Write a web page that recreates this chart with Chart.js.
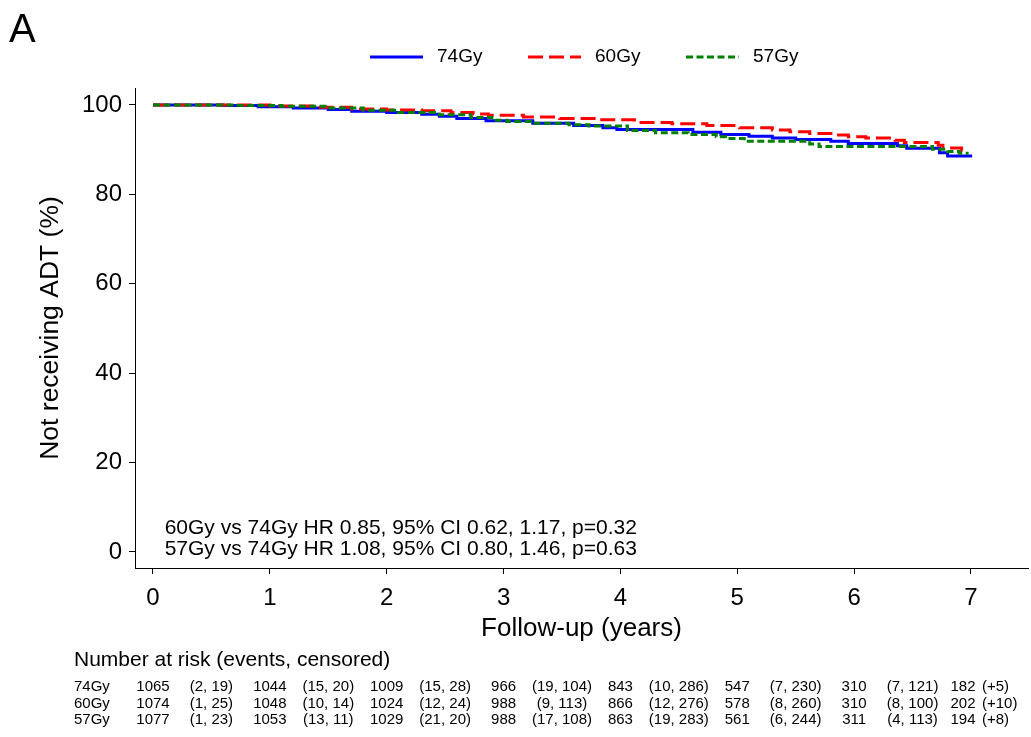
<!DOCTYPE html>
<html><head><meta charset="utf-8">
<script src="https://cdn.jsdelivr.net/npm/chart.js@4/dist/chart.umd.min.js"></script>
<style>html,body{margin:0;padding:0;background:#fff}#wrap{width:1031px;height:737px;position:relative}</style>
</head><body><div id="wrap"><canvas id="c" width="1031" height="737"></canvas></div>
<script>
// ---------------- data ----------------
const seriesNames = ['74Gy', '60Gy', '57Gy'];
const t74 = [0, 0.6, 0.9, 1.2, 1.5, 1.7, 2.0, 2.3, 2.45, 2.6, 2.85, 3.25, 3.6, 3.85, 3.97, 4.62, 4.86, 5.1, 5.3, 5.5, 5.8, 5.95, 6.37, 6.45, 6.73, 6.8, 7.01];
const s74 = [100, 99.9, 99.6, 99.3, 99.0, 98.6, 98.3, 97.9, 97.5, 97.0, 96.5, 95.9, 95.4, 94.9, 94.5, 93.9, 93.4, 93.0, 92.6, 92.3, 91.9, 91.4, 90.9, 90.3, 89.3, 88.6, 88.6];
const t60 = [0, 1.0, 1.4, 1.7, 2.0, 2.3, 2.55, 2.74, 2.87, 3.17, 3.48, 3.82, 4.12, 4.44, 4.74, 5.02, 5.3, 5.45, 5.62, 5.85, 5.95, 6.1, 6.35, 6.43, 6.72, 6.76, 6.92, 6.97];
const s60 = [100, 99.8, 99.5, 99.1, 98.9, 98.7, 98.3, 98.0, 97.7, 97.3, 97.0, 96.7, 96.1, 95.8, 95.4, 94.9, 94.4, 94.0, 93.6, 93.3, 92.9, 92.6, 92.1, 91.6, 91.0, 90.4, 89.8, 89.8];
const t57 = [0, 0.7, 1.1, 1.5, 1.8, 2.1, 2.45, 2.72, 2.9, 3.03, 3.27, 3.56, 3.73, 4.06, 4.3, 4.58, 4.82, 4.9, 5.06, 5.62, 5.7, 6.67, 6.8, 6.9, 6.98];
const s57 = [100, 99.9, 99.7, 99.3, 98.8, 98.3, 97.8, 97.2, 96.6, 96.3, 95.9, 95.6, 95.3, 94.3, 93.8, 93.4, 92.9, 92.5, 91.9, 91.3, 90.7, 90.1, 89.6, 89.2, 89.2];

const xTicks = [0, 1, 2, 3, 4, 5, 6, 7];
const yTicks = [0, 20, 40, 60, 80, 100];

const riskTimes = [0, 1, 2, 3, 4, 5, 6, 7];
const risk74 = [1065, 1044, 1009, 966, 843, 547, 310, 182];
const risk60 = [1074, 1048, 1024, 988, 866, 578, 310, 202];
const risk57 = [1077, 1053, 1029, 988, 863, 561, 311, 194];
const events74 = [2, 15, 15, 19, 10, 7, 7];
const censor74 = [19, 20, 28, 104, 286, 230, 121];
const events60 = [1, 10, 12, 9, 12, 8, 8];
const censor60 = [25, 14, 24, 113, 276, 260, 100];
const events57 = [1, 13, 21, 17, 19, 6, 4];
const censor57 = [23, 11, 20, 108, 283, 244, 113];
const tailCensor = ['(+5)', '(+10)', '(+8)'];

const hrLines = ['60Gy vs 74Gy HR 0.85, 95% CI 0.62, 1.17, p=0.32',
                 '57Gy vs 74Gy HR 1.08, 95% CI 0.80, 1.46, p=0.63'];
const panelLabel = 'A';
const riskHeader = 'Number at risk (events, censored)';

// ---------------- chart ----------------
const FONT = "'Liberation Sans', Arial, Helvetica, sans-serif";
Chart.defaults.font.family = FONT;
Chart.defaults.color = '#000';

const toPts = (t, s) => t.map((v, i) => ({x: v, y: s[i]}));
const colors = ['#0000ff', '#ff0000', '#008000'];
const dashes = [[], [15, 6], [7, 3.5]];

const datasets = [
  {label: seriesNames[0], data: toPts(t74, s74), borderColor: colors[0], borderDash: dashes[0], order: 3},
  {label: seriesNames[1], data: toPts(t60, s60), borderColor: colors[1], borderDash: dashes[1], order: 2},
  {label: seriesNames[2], data: toPts(t57, s57), borderColor: colors[2], borderDash: dashes[2], order: 1}
].map(d => Object.assign(d, {stepped: true, pointRadius: 0, borderWidth: 3, fill: false, tension: 0}));

const riskRows = [
  {name: seriesNames[0], risk: risk74, ev: events74, cen: censor74, tail: tailCensor[0]},
  {name: seriesNames[1], risk: risk60, ev: events60, cen: censor60, tail: tailCensor[1]},
  {name: seriesNames[2], risk: risk57, ev: events57, cen: censor57, tail: tailCensor[2]}
];

const decor = {
  id: 'decor',
  afterDraw(chart) {
    const ctx = chart.ctx;
    const xs = chart.scales.x;
    ctx.save();
    ctx.fillStyle = '#000';
    // panel label
    ctx.font = '40px ' + FONT;
    ctx.textAlign = 'left'; ctx.textBaseline = 'alphabetic';
    ctx.fillText(panelLabel, 9, 42);
    // legend
    const legX = [370, 528, 686];
    const legY = 57;
    chart.data.datasets.forEach((d, i) => {
      ctx.save();
      ctx.strokeStyle = d.borderColor; ctx.lineWidth = 3;
      ctx.setLineDash(d.borderDash);
      ctx.beginPath(); ctx.moveTo(legX[i], legY); ctx.lineTo(legX[i] + 53, legY); ctx.stroke();
      ctx.restore();
      ctx.font = '19px ' + FONT; ctx.textBaseline = 'middle'; ctx.textAlign = 'left';
      ctx.fillText(d.label, legX[i] + 67, legY);
    });
    // HR annotation
    ctx.font = '21px ' + FONT; ctx.textAlign = 'left'; ctx.textBaseline = 'alphabetic';
    const ax = xs.getPixelForValue(0.1);
    ctx.fillText(hrLines[0], ax, 534);
    ctx.fillText(hrLines[1], ax, 555);
    // risk table
    ctx.font = '21px ' + FONT; ctx.textBaseline = 'middle'; ctx.textAlign = 'left';
    ctx.fillText(riskHeader, 74, 660);
    ctx.font = '15px ' + FONT;
    const rowY = [687, 703.5, 720];
    const last = riskTimes.length - 1;
    riskRows.forEach((r, k) => {
      const y = rowY[k];
      ctx.textAlign = 'left';
      ctx.fillText(r.name, 74, y);
      ctx.textAlign = 'center';
      r.risk.forEach((n, i) => {
        const px = xs.getPixelForValue(riskTimes[i]) - (i === last ? 8 : 0);
        ctx.fillText(String(n), px, y);
      });
      r.ev.forEach((e, i) => ctx.fillText('(' + e + ', ' + r.cen[i] + ')', xs.getPixelForValue(riskTimes[i] + 0.5), y));
      ctx.textAlign = 'left';
      ctx.fillText(r.tail, xs.getPixelForValue(riskTimes[last]) + 11, y);
    });
    ctx.restore();
  }
};

new Chart(document.getElementById('c'), {
  type: 'line',
  data: {datasets},
  options: {
    responsive: false,
    animation: false,
    devicePixelRatio: 1,
    layout: {padding: {left: 0, right: 3, top: 88, bottom: 92}},
    plugins: {legend: {display: false}, tooltip: {enabled: false}},
    scales: {
      x: {
        type: 'linear', min: -0.154, max: 7.488,
        afterBuildTicks: s => { s.ticks = xTicks.map(v => ({value: v})); },
        afterFit: s => { s.height = 77; },
        grid: {drawOnChartArea: false, drawTicks: true, tickLength: 6, color: '#000', lineWidth: 1},
        border: {display: true, color: '#000', width: 1},
        ticks: {font: {size: 24}, padding: 10, color: '#000', maxRotation: 0, autoSkip: false},
        title: {display: true, text: 'Follow-up (years)', font: {size: 26, lineHeight: 1.2}, padding: {top: 0, bottom: 1}, color: '#000'}
      },
      y: {
        type: 'linear', min: -3.58, max: 103.8,
        afterBuildTicks: s => { s.ticks = yTicks.map(v => ({value: v})); },
        afterFit: s => { s.width = 135; },
        grid: {drawOnChartArea: false, drawTicks: true, tickLength: 6, color: '#000', lineWidth: 1},
        border: {display: true, color: '#000', width: 1},
        ticks: {font: {size: 24}, padding: 7, color: '#000', autoSkip: false},
        title: {display: true, text: 'Not receiving ADT (%)', font: {size: 26.5, lineHeight: 1.2}, padding: {top: 35, bottom: 0}, color: '#000'}
      }
    }
  },
  plugins: [decor]
});
</script></body></html>
